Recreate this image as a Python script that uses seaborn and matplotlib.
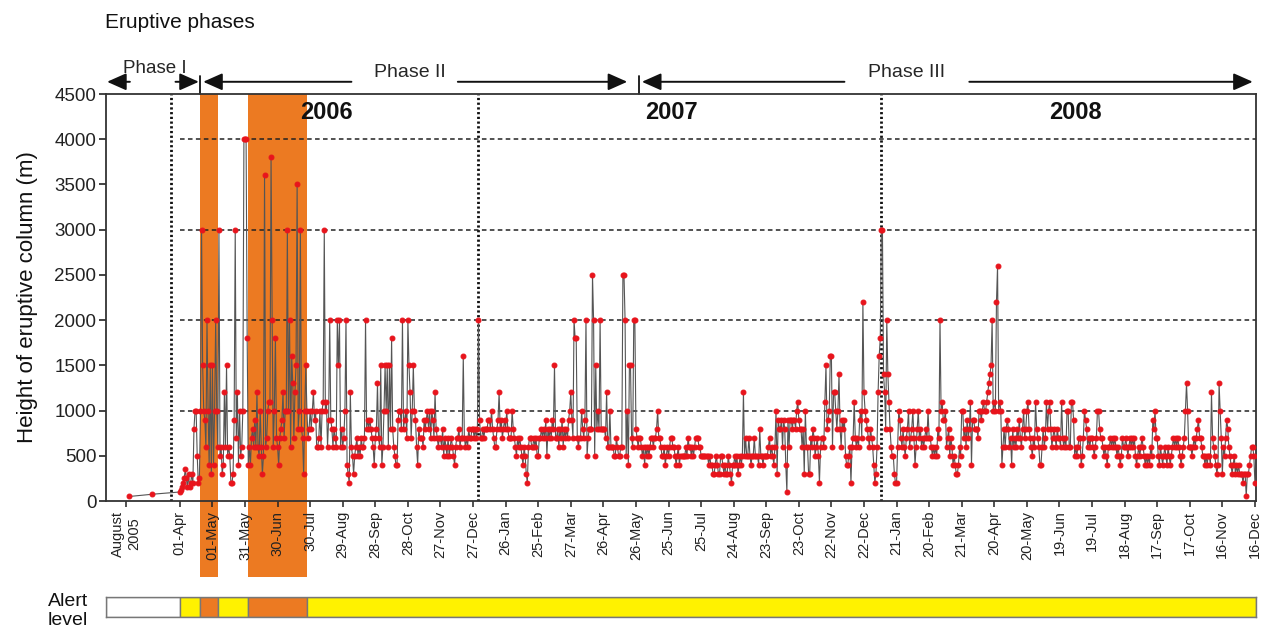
import numpy as np
import pandas as pd
import matplotlib
matplotlib.use("Agg")
import matplotlib.pyplot as plt
import matplotlib.transforms as mtransforms
from matplotlib.patches import Rectangle
import seaborn as sns

sns.set_theme(style="white")
plt.rcParams["font.family"] = ["Liberation Sans", "DejaVu Sans"]

# ---------------------------------------------------------------- data
START = pd.Timestamp("2006-04-01")      # first day of the daily record
BREAK = pd.Timestamp("2006-03-24")      # axis break before the daily record
COMPRESS = 0.175                        # axis days per calendar day before the break

# sparse observations before the daily record
early_dates = ["2005-08-15", "2005-12-15"]
early_heights = [50, 75]

# daily column heights (m), 30-day blocks starting on the tick dates
h_060401 = [100, 120, 150, 200, 250, 350, 250, 150, 300, 150, 200, 300, 200, 800, 1000, 1000, 500, 200, 250, 1000, 3000, 1500, 1000, 900, 600, 2000, 1000, 400, 1500, 300]
h_060501 = [1500, 400, 1000, 2000, 1000, 600, 3000, 500, 600, 300, 400, 1200, 600, 1500, 500, 600, 500, 200, 200, 300, 900, 3000, 700, 1200, 400, 1000, 500, 600, 1000, 4000]
h_060531 = [4000, 4000, 1800, 400, 600, 400, 700, 800, 600, 900, 600, 1200, 600, 500, 1000, 600, 300, 500, 3600, 600, 700, 1000, 1100, 1100, 3800, 2000, 600, 1000, 1800, 700]
h_060630 = [600, 400, 700, 800, 900, 1200, 700, 1000, 1000, 3000, 1000, 2000, 600, 1600, 1300, 700, 1200, 1500, 3500, 800, 1000, 3000, 800, 700, 300, 1000, 1500, 1000, 700, 800]
h_060730 = [1000, 800, 1000, 1200, 900, 1000, 600, 600, 700, 1000, 600, 1000, 1100, 3000, 1000, 1100, 600, 900, 2000, 900, 800, 600, 800, 700, 600, 2000, 1500, 2000, 600, 800]
h_060829 = [600, 700, 1000, 2000, 400, 300, 200, 1200, 600, 500, 300, 500, 600, 700, 500, 600, 500, 700, 600, 600, 700, 2000, 800, 900, 800, 900, 800, 700, 600, 400]
h_060928 = [700, 800, 1300, 700, 600, 1500, 400, 600, 1000, 1500, 1000, 1500, 600, 1500, 800, 1800, 800, 600, 500, 400, 400, 900, 1000, 1000, 800, 2000, 800, 900, 1000, 700]
h_061028 = [2000, 1500, 1200, 700, 1000, 1500, 1000, 900, 600, 400, 800, 700, 700, 700, 600, 900, 800, 900, 1000, 800, 1000, 700, 1000, 900, 700, 1200, 800, 700, 600, 700]
h_061127 = [700, 600, 800, 500, 700, 600, 500, 700, 500, 600, 700, 600, 500, 400, 600, 700, 700, 800, 600, 700, 700, 1600, 700, 600, 700, 600, 800, 700, 700, 800]
h_061227 = [800, 700, 800, 700, 800, 2000, 900, 700, 700, 800, 700, 800, 800, 800, 900, 900, 800, 1000, 800, 700, 600, 600, 800, 900, 1200, 800, 900, 700, 800, 900]
h_070126 = [800, 1000, 800, 700, 700, 700, 1000, 800, 700, 600, 500, 700, 600, 700, 600, 500, 400, 600, 500, 300, 200, 600, 700, 700, 600, 600, 700, 600, 700, 500]
h_070225 = [500, 700, 700, 800, 700, 800, 700, 900, 500, 800, 700, 800, 700, 900, 800, 1500, 700, 700, 800, 600, 800, 700, 900, 600, 800, 700, 800, 700, 900, 1000]
h_070327 = [1200, 900, 700, 2000, 1800, 1800, 700, 600, 700, 700, 1000, 800, 700, 900, 2000, 500, 700, 800, 800, 800, 2500, 2000, 500, 1500, 800, 1000, 800, 2000, 800, 800]
h_070426 = [800, 800, 700, 1200, 600, 600, 1000, 600, 600, 600, 500, 500, 700, 600, 500, 500, 600, 600, 2500, 2500, 2000, 500, 1000, 400, 1500, 1500, 700, 600, 2000, 2000]
h_070526 = [800, 700, 600, 700, 700, 600, 500, 600, 400, 600, 500, 600, 500, 600, 700, 700, 600, 700, 700, 800, 1000, 700, 700, 600, 500, 500, 600, 400, 500, 600]
h_070625 = [500, 600, 700, 700, 600, 600, 500, 400, 500, 600, 400, 500, 500, 500, 500, 500, 600, 500, 700, 600, 600, 500, 600, 500, 600, 700, 700, 700, 600, 600]
h_070725 = [500, 500, 500, 500, 500, 500, 500, 400, 500, 400, 400, 300, 300, 400, 500, 400, 300, 300, 500, 500, 400, 300, 400, 300, 300, 500, 400, 300, 200, 400]
h_070824 = [400, 500, 400, 500, 300, 400, 500, 400, 500, 1200, 500, 700, 500, 500, 700, 500, 400, 500, 500, 700, 500, 500, 500, 400, 800, 500, 500, 400, 500, 500]
h_070923 = [500, 500, 600, 700, 500, 600, 500, 400, 600, 1000, 300, 900, 800, 800, 900, 600, 900, 800, 400, 100, 900, 600, 900, 900, 800, 900, 900, 800, 1000, 1100]
h_071023 = [900, 800, 800, 600, 800, 300, 1000, 600, 600, 300, 300, 700, 600, 800, 700, 500, 600, 700, 500, 200, 600, 700, 700, 600, 1100, 1500, 800, 900, 1000, 1600]
h_071122 = [1600, 600, 1200, 1200, 1000, 800, 1000, 1400, 800, 600, 900, 800, 900, 500, 400, 400, 500, 600, 200, 600, 700, 1100, 700, 600, 700, 600, 900, 1000, 700, 2200]
h_071222 = [1200, 1000, 900, 800, 700, 600, 800, 700, 600, 400, 200, 300, 600, 1200, 1600, 1800, 3000, 3000, 1400, 1200, 800, 2000, 1400, 1100, 800, 600, 500, 500, 300, 200]
h_080121 = [200, 600, 1000, 900, 700, 600, 800, 600, 500, 700, 800, 1000, 600, 700, 800, 1000, 700, 400, 600, 800, 1000, 700, 800, 600, 700, 600, 700, 800, 700, 1000]
h_080220 = [700, 700, 600, 500, 600, 500, 600, 500, 800, 700, 2000, 1000, 1100, 900, 900, 1000, 600, 700, 800, 500, 700, 600, 400, 500, 400, 300, 300, 400, 600, 500]
h_080321 = [1000, 1000, 700, 800, 600, 900, 700, 800, 1100, 400, 900, 900, 800, 800, 800, 700, 1000, 1000, 900, 1000, 1100, 1000, 1000, 1100, 1200, 1300, 1400, 1500, 2000, 1000]
h_080420 = [1100, 1000, 2200, 2600, 1000, 1100, 1000, 400, 600, 800, 600, 800, 900, 800, 600, 700, 400, 800, 600, 700, 600, 800, 700, 900, 700, 600, 800, 1000, 700, 800]
h_080520 = [1000, 1100, 800, 700, 600, 500, 700, 600, 1100, 800, 700, 600, 400, 400, 600, 800, 600, 700, 1100, 800, 1000, 1100, 800, 600, 700, 800, 700, 600, 800, 700]
h_080619 = [700, 600, 1100, 700, 600, 700, 600, 1000, 1000, 600, 600, 1100, 1100, 900, 500, 600, 500, 600, 700, 700, 400, 500, 700, 1000, 900, 800, 600, 700, 600, 700]
h_080719 = [700, 600, 500, 600, 700, 1000, 1000, 800, 700, 700, 600, 500, 600, 500, 400, 600, 600, 700, 600, 700, 600, 700, 600, 500, 600, 500, 400, 500, 700, 600]
h_080818 = [600, 700, 600, 500, 600, 700, 600, 700, 600, 700, 500, 400, 500, 600, 500, 600, 700, 600, 500, 400, 500, 400, 500, 400, 600, 500, 900, 800, 1000, 700]
h_080917 = [700, 500, 400, 600, 500, 400, 500, 600, 500, 400, 600, 500, 400, 500, 600, 700, 600, 700, 600, 700, 600, 500, 400, 500, 600, 700, 1000, 1300, 1000, 600]
h_081017 = [600, 600, 500, 600, 700, 600, 700, 800, 900, 700, 700, 600, 500, 500, 400, 500, 400, 500, 500, 400, 1200, 700, 600, 500, 400, 300, 400, 1300, 1000, 700]
h_081116 = [300, 600, 500, 700, 900, 800, 600, 500, 400, 300, 400, 500, 300, 400, 300, 400, 300, 300, 300, 200, 300, 300, 50, 300, 300, 400, 500, 600, 600, 500]
h_081216 = [200]

tick_labels = ["01-Apr", "01-May", "31-May", "30-Jun", "30-Jul", "29-Aug", "28-Sep",
               "28-Oct", "27-Nov", "27-Dec", "26-Jan", "25-Feb", "27-Mar", "26-Apr",
               "26-May", "25-Jun", "25-Jul", "24-Aug", "23-Sep", "23-Oct", "22-Nov",
               "22-Dec", "21-Jan", "20-Feb", "21-Mar", "20-Apr", "20-May", "19-Jun",
               "19-Jul", "18-Aug", "17-Sep", "17-Oct", "16-Nov", "16-Dec"]
first_label = "August\n2005"
first_label_date = "2005-08-01"

# high-activity (orange alert) periods
orange_starts = ["2006-04-20", "2006-06-03"]
orange_ends = ["2006-05-06", "2006-07-27"]

# alert level bar segments
alert_starts = ["2005-03-01", "2006-04-01", "2006-04-20", "2006-05-06", "2006-06-03", "2006-07-27"]
alert_ends = ["2006-04-01", "2006-04-20", "2006-05-06", "2006-06-03", "2006-07-27", "2008-12-17"]
alert_colors = ["white", "#fff200", "#ec7a22", "#fff200", "#ec7a22", "#fff200"]

year_labels = ["2006", "2007", "2008"]
year_label_dates = ["2006-08-14", "2007-06-28", "2008-07-04"]
year_lines = ["2007-01-01", "2008-01-07"]

phase_bounds = ["2006-04-20", "2007-05-29"]

# ---------------------------------------------------------------- scale
def axis_pos(date):
    """Days since START; dates before the break are squeezed together."""
    d = pd.Timestamp(date)
    if d >= BREAK:
        return (d - START).days
    return (BREAK - START).days - (BREAK - d).days * COMPRESS


daily = np.concatenate([h_060401, h_060501, h_060531, h_060630, h_060730, h_060829,
                        h_060928, h_061028, h_061127, h_061227, h_070126, h_070225,
                        h_070327, h_070426, h_070526, h_070625, h_070725, h_070824,
                        h_070923, h_071023, h_071122, h_071222, h_080121, h_080220,
                        h_080321, h_080420, h_080520, h_080619, h_080719, h_080818,
                        h_080917, h_081017, h_081116, h_081216])
x_all = np.concatenate([[axis_pos(d) for d in early_dates], np.arange(len(daily))])
y_all = np.concatenate([early_heights, daily])
df = pd.DataFrame({"day": x_all, "height": y_all})

XMIN, XMAX = -68, 991

# ---------------------------------------------------------------- figure
fig = plt.figure(figsize=(12.71, 6.33), dpi=100)
ax = fig.add_axes([0.0834, 0.2085, 0.9048, 0.643])
ax.set_xlim(XMIN, XMAX)
ax.set_ylim(0, 4500)
trans = mtransforms.blended_transform_factory(ax.transData, ax.transAxes)

orange = "#ec7a22"
for s, e in zip(orange_starts, orange_ends):
    x0, x1 = axis_pos(s), axis_pos(e)
    ax.add_patch(Rectangle((x0, -0.187), x1 - x0, 1.187, transform=trans,
                           facecolor=orange, edgecolor="none", clip_on=False, zorder=0))

# reference levels
for lvl in [1000, 2000, 3000, 4000]:
    ax.plot([0, XMAX], [lvl, lvl], color="#222222", lw=1.1, ls=(0, (3, 2.2)), zorder=1)

# break and year separators
for xv in [axis_pos(BREAK)] + [axis_pos(d) for d in year_lines]:
    ax.axvline(xv, color="#111111", lw=2.0, ls=(0, (0.8, 0.9)), zorder=1)

sns.lineplot(data=df, x="day", y="height", ax=ax, estimator=None, sort=False,
             color="#555555", linewidth=0.8, marker="o", markersize=3.5,
             markerfacecolor="#e8141c", markeredgecolor="#e8141c", zorder=4)

# axes styling
for sp in ax.spines.values():
    sp.set_color("#333333")
    sp.set_linewidth(1.3)
ticks = [axis_pos(first_label_date)] + list(range(0, 991, 30))
ax.set_xticks(ticks)
ax.set_xticklabels([first_label] + tick_labels, rotation=90, fontsize=10.5)
ax.xaxis.get_major_ticks()[0].tick1line.set_visible(False)
ax.set_yticks(range(0, 4501, 500))
ax.tick_params(axis="y", labelsize=13.5, direction="out", length=5, width=1.2,
               colors="#222222", left=True, pad=2)
ax.tick_params(axis="x", direction="out", length=4, width=1.1, bottom=True,
               colors="#222222", pad=3)
ax.set_xlabel("")
ax.set_ylabel("Height of eruptive column (m)", fontsize=16, labelpad=12, color="#111111")
ax.grid(False)

# year labels
for lab, d in zip(year_labels, year_label_dates):
    ax.text(axis_pos(d), 0.955, lab, transform=trans, ha="center", va="center",
            fontsize=17, fontweight="bold", color="#111111", zorder=5)

# eruptive phases
arrow_y = 1.03
arrow_kw = dict(arrowstyle="-|>,head_length=0.45,head_width=0.2", color="#111111",
                lw=1.4, mutation_scale=26, shrinkA=0, shrinkB=0)


def arrow(x_tail, x_head):
    ax.annotate("", xy=(x_head, arrow_y), xytext=(x_tail, arrow_y), xycoords=trans,
                textcoords=trans, arrowprops=arrow_kw, annotation_clip=False)


for d in phase_bounds:
    xb = axis_pos(d)
    ax.plot([xb, xb], [1.0, 1.045], transform=trans, color="#111111", lw=1.3,
            clip_on=False)

b1, b2 = axis_pos(phase_bounds[0]), axis_pos(phase_bounds[1])
arrow(-46, -67)
arrow(-4, b1 - 1.5)
arrow(158, b1 + 2.5)
arrow(256, b2 - 11)
arrow(612, b2 + 2.5)
arrow(727, 988)
ax.text(-23, 1.063, "Phase I", transform=trans, ha="center", va="center", fontsize=13.5)
ax.text(212, 1.053, "Phase II", transform=trans, ha="center", va="center", fontsize=14)
ax.text(669, 1.053, "Phase III", transform=trans, ha="center", va="center", fontsize=14)

fig.text(105 / 1271, 1 - 22 / 633, "Eruptive phases", ha="left", va="center",
         fontsize=15, color="#111111")

# alert level bar
ax2 = fig.add_axes([0.0834, 0.0253, 0.9048, 0.0316])
ax2.set_xlim(XMIN, XMAX)
ax2.set_ylim(0, 1)
for s, e, c in zip(alert_starts, alert_ends, alert_colors):
    x0, x1 = max(axis_pos(s), XMIN), min(axis_pos(e), XMAX)
    ax2.barh(0.5, x1 - x0, left=x0, height=1.0, color=c, edgecolor="#777777",
             linewidth=1.0)
ax2.set_xticks([])
ax2.set_yticks([])
for sp in ax2.spines.values():
    sp.set_color("#777777")
    sp.set_linewidth(1.0)
fig.text(48 / 1271, 1 - 611 / 633, "Alert\nlevel", ha="left", va="center",
         fontsize=14, linespacing=1.1, color="#111111")

fig.savefig("out.png", dpi=100)
